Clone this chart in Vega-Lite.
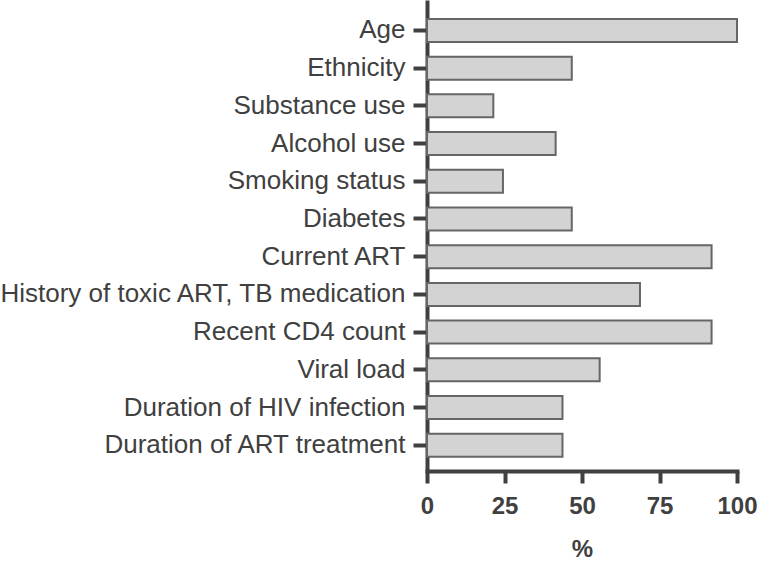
{
  "$schema": "https://vega.github.io/schema/vega-lite/v6.json",
  "autosize": "none",
  "width": 310,
  "height": 471,
  "padding": {"left": 427, "top": 0, "right": 23, "bottom": 91},
  "background": "white",
  "config": {"view": {"stroke": null}, "font": "Liberation Sans"},
  "data": {"values": [
    {"factor": "Age ", "pct": 100},
    {"factor": "Ethnicity", "pct": 46.7},
    {"factor": "Substance use", "pct": 21.4},
    {"factor": "Alcohol use", "pct": 41.5},
    {"factor": "Smoking status", "pct": 24.5},
    {"factor": "Diabetes", "pct": 46.7},
    {"factor": "Current ART", "pct": 91.8},
    {"factor": "History of toxic ART, TB medication", "pct": 68.7},
    {"factor": "Recent CD4 count", "pct": 91.8},
    {"factor": "Viral load ", "pct": 55.7},
    {"factor": "Duration of HIV infection", "pct": 43.7},
    {"factor": "Duration of ART treatment", "pct": 43.7}
  ]},
  "mark": {"type": "bar", "fill": "#d3d3d3", "stroke": "#666666", "strokeWidth": 2},
  "encoding": {
    "y": {
      "field": "factor", "type": "nominal", "sort": null,
      "scale": {"paddingInner": 0.39, "paddingOuter": 0.44, "align": 0.57},
      "axis": {
        "title": null, "domainColor": "#404040", "domainWidth": 4,
        "tickColor": "#404040", "tickWidth": 4, "tickSize": 14,
        "labelFontSize": 26, "labelColor": "#404040", "labelPadding": 8,
        "labelLimit": 500
      }
    },
    "x": {
      "field": "pct", "type": "quantitative",
      "scale": {"domain": [0, 100], "nice": false},
      "axis": {
        "title": "%", "values": [0, 25, 50, 75, 100], "grid": false,
        "domainColor": "#404040", "domainWidth": 4, "domainCap": "square",
        "tickColor": "#404040", "tickWidth": 4, "tickSize": 12,
        "labelFontSize": 24, "labelFontWeight": "bold", "labelColor": "#404040",
        "labelPadding": 11, "labelFlush": false,
        "titleFontSize": 24, "titleFontWeight": "bold", "titleColor": "#404040",
        "titlePadding": 19
      }
    }
  }
}
